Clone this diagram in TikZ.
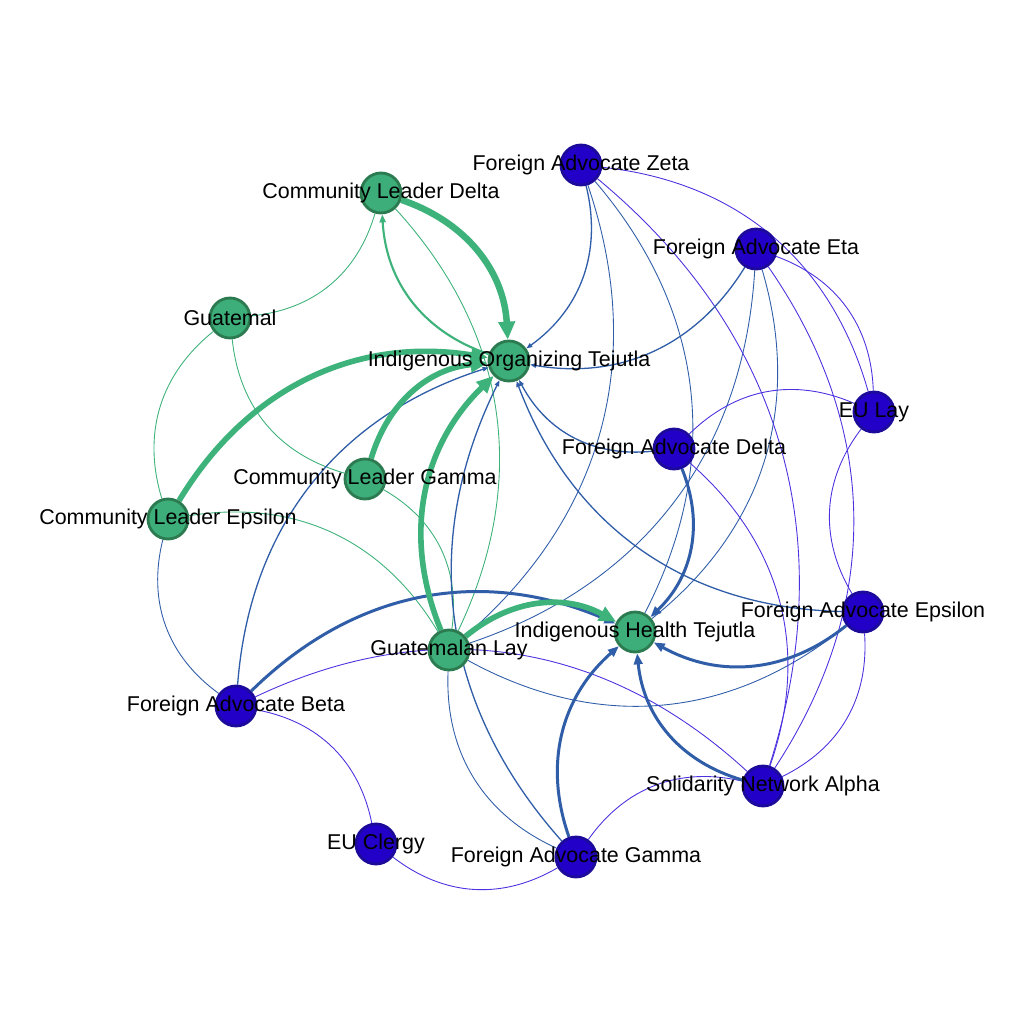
\documentclass[tikz,border=0pt]{standalone}
\usepackage{fontspec}
\setmainfont{Liberation Sans}
\usetikzlibrary{arrows.meta}
\definecolor{gfill}{HTML}{3DAE79}
\definecolor{gline}{HTML}{2B7A50}
\definecolor{bfill}{HTML}{2200C8}
\definecolor{bline}{HTML}{1C0A9A}
\definecolor{gedge}{HTML}{3DB27A}
\definecolor{sedge}{HTML}{2F5DA8}
\definecolor{vedge}{HTML}{4B32E0}
\pgfdeclarelayer{bg}
\pgfdeclarelayer{edges}
\pgfsetlayers{bg,edges,main}

\begin{document}
\begin{tikzpicture}[every node/.style={font=\fontsize{6.1}{7}\selectfont}, gnode/.style={circle, draw=gline, fill=gfill, line width=0.8pt, minimum size=0.4cm, inner sep=0pt}, bnode/.style={circle, draw=bline, fill=bfill, line width=0.8pt, minimum size=0.4cm, inner sep=0pt}, lab/.style={inner sep=0pt, text=black}, e/.style={bend left=34}, gbig/.style={e, draw=gedge, line width=1.85pt, -{Triangle[length=1.8mm, width=1.6mm]}}, gthick/.style={e, draw=gedge, line width=1.6pt, -{Triangle[length=1.7mm, width=1.5mm]}}, gmid/.style={e, draw=gedge, line width=0.6pt, -{Triangle[length=0.8mm, width=0.6mm]}}, gthin/.style={e, draw=gedge, line width=0.25pt}, sthick/.style={e, draw=sedge, line width=0.85pt, -{Triangle[length=1.1mm, width=0.85mm]}}, smid/.style={e, draw=sedge, line width=0.37pt, -{Triangle[length=0.6mm, width=0.45mm]}}, sthin/.style={e, draw=sedge, line width=0.25pt}, vthin/.style={e, draw=vedge, line width=0.25pt}]
\begin{pgfonlayer}{bg}
\fill[white] (0,0) rectangle (10.24,-10.24);
\end{pgfonlayer}
\path[use as bounding box] (0,0) rectangle (10.24,-10.24);

% nodes
\node[gnode] (CLD) at (3.81,-1.93) {};
\node[gnode] (G) at (2.30,-3.18) {};
\node[gnode] (IOT) at (5.09,-3.61) {};
\node[bnode] (FAZ) at (5.81,-1.65) {};
\node[bnode] (FAE) at (7.56,-2.49) {};
\node[bnode] (EUL) at (8.74,-4.12) {};
\node[bnode] (FAD) at (6.74,-4.49) {};
\node[gnode] (CLG) at (3.65,-4.79) {};
\node[gnode] (CLE) at (1.68,-5.19) {};
\node[bnode] (FAEp) at (8.63,-6.12) {};
\node[gnode] (IHT) at (6.35,-6.32) {};
\node[gnode] (GL) at (4.49,-6.50) {};
\node[bnode] (FAB) at (2.36,-7.06) {};
\node[bnode] (SNA) at (7.63,-7.86) {};
\node[bnode] (EUC) at (3.76,-8.44) {};
\node[bnode] (FAG) at (5.76,-8.57) {};

% edges
\begin{pgfonlayer}{edges}
\draw[gthin] (CLD) to (G);
\draw[gthin] (CLD) to (GL);
\draw[gthin] (CLG) to (G);
\draw[gthin] (CLG) to (GL);
\draw[gthin] (CLE) to (G);
\draw[gthin] (CLE) to (GL);
\draw[sthin] (FAZ) to (IHT);
\draw[sthin] (FAE) to (IHT);
\draw[sthin] (FAZ) to (GL);
\draw[sthin] (FAE) to (GL);
\draw[sthin] (FAEp) to (GL);
\draw[sthin] (FAG) to (GL);
\draw[sthin] (FAB) to (CLE);
\draw[vthin] (FAZ) to (EUL);
\draw[vthin] (FAE) to (EUL);
\draw[vthin] (FAD) to (EUL);
\draw[vthin] (FAEp) to (EUL);
\draw[vthin] (FAZ) to (SNA);
\draw[vthin] (FAE) to (SNA);
\draw[vthin] (FAD) to (SNA);
\draw[vthin] (FAEp) to (SNA);
\draw[vthin] (FAB) to (SNA);
\draw[vthin] (FAG) to (SNA);
\draw[vthin] (FAG) to (EUC);
\draw[vthin] (FAB) to (EUC);
\draw[smid] (FAZ) to (IOT);
\draw[smid] (FAE) to (IOT);
\draw[smid] (FAEp) to (IOT);
\draw[smid] (FAD) to (IOT);
\draw[smid] (FAG) to (IOT);
\draw[smid] (FAB) to (IOT);
\draw[sthick] (FAD) to (IHT);
\draw[sthick] (FAEp) to (IHT);
\draw[sthick] (SNA) to (IHT);
\draw[sthick] (FAG) to (IHT);
\draw[sthick] (FAB) to (IHT);
\draw[gmid] (IOT) to (CLD);
\draw[gbig] (CLD) to (IOT);
\draw[gthick] (CLE) to (IOT);
\draw[gthick] (CLG) to (IOT);
\draw[gthick] (GL) to (IOT);
\draw[gthick] (GL) to (IHT);
\end{pgfonlayer}

% labels
\node[lab] (CLD-t) at (CLD) {Community Leader Delta};
\node[lab] (G-t) at (G) {Guatemal};
\node[lab] (IOT-t) at (IOT) {Indigenous Organizing Tejutla};
\node[lab] (FAZ-t) at (FAZ) {Foreign Advocate Zeta};
\node[lab] (FAE-t) at (FAE) {Foreign Advocate Eta};
\node[lab] (EUL-t) at (EUL) {EU Lay};
\node[lab] (FAD-t) at (FAD) {Foreign Advocate Delta};
\node[lab] (CLG-t) at (CLG) {Community Leader Gamma};
\node[lab] (CLE-t) at (CLE) {Community Leader Epsilon};
\node[lab] (FAEp-t) at (FAEp) {Foreign Advocate Epsilon};
\node[lab] (IHT-t) at (IHT) {Indigenous Health Tejutla};
\node[lab] (GL-t) at (GL) {Guatemalan Lay};
\node[lab] (FAB-t) at (FAB) {Foreign Advocate Beta};
\node[lab] (SNA-t) at (SNA) {Solidarity Network Alpha};
\node[lab] (EUC-t) at (EUC) {EU Clergy};
\node[lab] (FAG-t) at (FAG) {Foreign Advocate Gamma};
\end{tikzpicture}
\end{document}
